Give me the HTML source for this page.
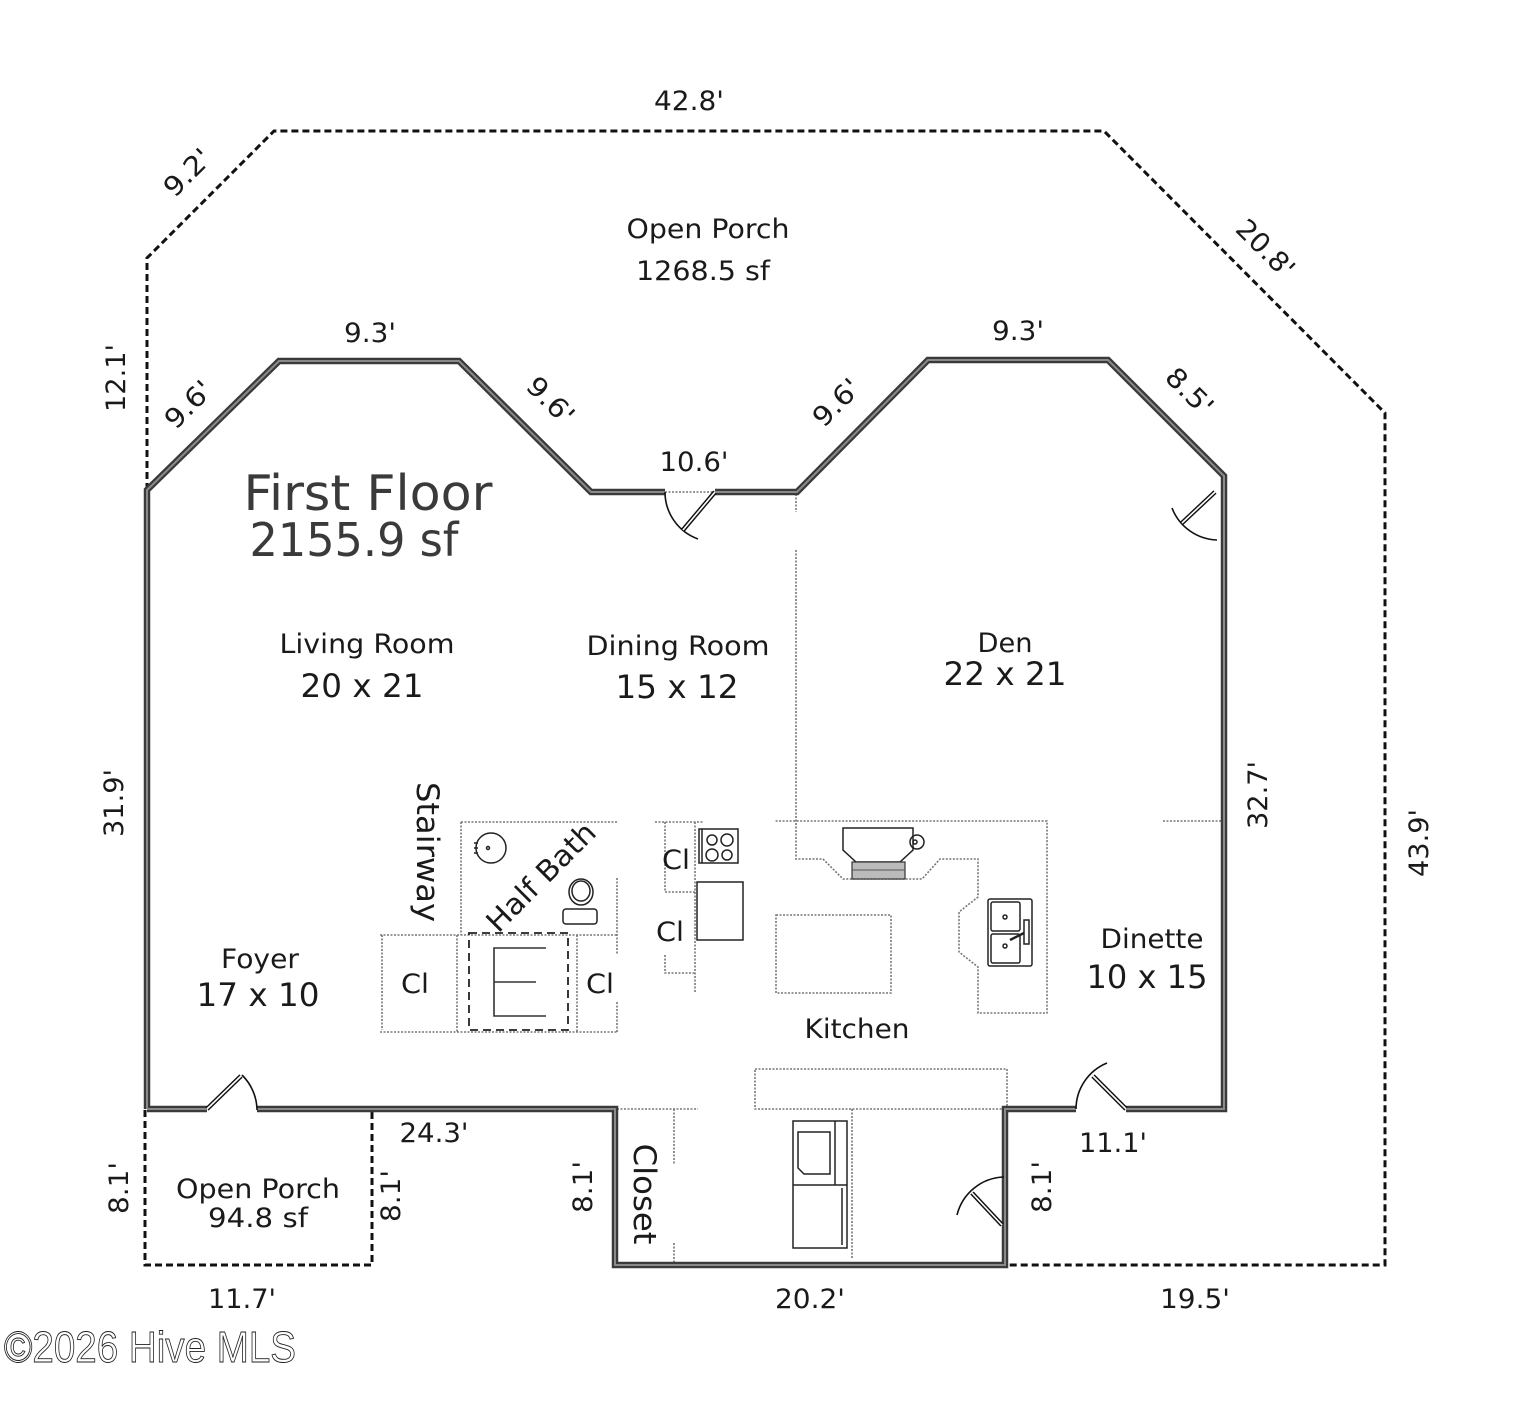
<!DOCTYPE html>
<html><head><meta charset="utf-8"><style>
html,body{margin:0;padding:0;background:#fff;}
svg{display:block;}
text{font-family:"DejaVu Sans","Liberation Sans",sans-serif;fill:#1a1a1a;}
</style></head><body>
<svg width="1536" height="1410" viewBox="0 0 1536 1410" xmlns="http://www.w3.org/2000/svg">
<rect width="1536" height="1410" fill="#fff"/>
<!-- outer porch dashed -->
<path d="M147,490 L147,258 L274,131 L1104,131 L1385,413 L1385,1265 L1005,1265" fill="none" stroke="#111" stroke-width="3" stroke-dasharray="7 4"/>
<path d="M145,1110 L145,1265 L372,1265 L372,1110" fill="none" stroke="#111" stroke-width="3" stroke-dasharray="7 4"/>

<!-- interior dotted lines -->
<g fill="none" stroke="#777" stroke-width="1.6" stroke-dasharray="2 1.5">
<line x1="796" y1="494" x2="796" y2="512"/>
<polyline points="796,550 796,859 823,859 843,879 922,879 940,859 978,859 978,897 959,912 959,952 978,967 978,1013 1047,1013 1047,821 775,821"/>
<line x1="1163" y1="821" x2="1222" y2="821"/>
<rect x="776" y="915" width="115" height="78"/>
<line x1="655" y1="822" x2="703" y2="822"/>
<polyline points="665,822 665,892 695,892"/>
<line x1="695" y1="822" x2="695" y2="993"/>
<polyline points="665,955 665,973 695,973"/>
<line x1="461" y1="822" x2="617" y2="822"/>
<line x1="461" y1="822" x2="461" y2="935"/>
<line x1="617" y1="878" x2="617" y2="955"/>
<line x1="617" y1="1002" x2="617" y2="1032"/>
<line x1="380" y1="935" x2="617" y2="935"/>
<line x1="382" y1="935" x2="382" y2="1030"/>
<line x1="457" y1="935" x2="457" y2="1032"/>
<line x1="577" y1="935" x2="577" y2="1032"/>
<line x1="380" y1="1032" x2="617" y2="1032"/>
<rect x="755" y="1069" width="252" height="40"/>
<line x1="617" y1="1109" x2="698" y2="1109"/>
<line x1="674" y1="1109" x2="674" y2="1165"/>
<line x1="674" y1="1243" x2="674" y2="1263"/>
<line x1="852" y1="1109" x2="852" y2="1258"/>
<line x1="665" y1="492" x2="715" y2="492"/>
</g>

<!-- stair dashed -->
<rect x="469" y="933" width="99" height="97" fill="none" stroke="#222" stroke-width="1.8" stroke-dasharray="8 5"/>
<g stroke="#333" stroke-width="1.6" fill="none">
<polyline points="546,948 494,948 494,1016 546,1016"/>
<line x1="494" y1="982" x2="536" y2="982"/>
</g>

<!-- fixtures -->
<g fill="none" stroke="#222" stroke-width="1.5">
<circle cx="491" cy="848" r="15"/>
<circle cx="488" cy="848" r="1.5"/>
<line x1="474" y1="843" x2="478" y2="843"/><line x1="474" y1="848" x2="478" y2="848"/><line x1="474" y1="853" x2="478" y2="853"/>
<ellipse cx="581" cy="892" rx="12" ry="13"/>
<ellipse cx="581" cy="891" rx="9" ry="10"/>
<rect x="563" y="909" width="34" height="15" rx="3"/>
<rect x="699" y="829" width="39" height="34"/>
<line x1="702" y1="829" x2="702" y2="863"/>
<circle cx="712" cy="840" r="5"/><circle cx="727" cy="840" r="6"/>
<circle cx="712" cy="855" r="6"/><circle cx="727" cy="855" r="5"/>
<rect x="697" y="882" width="46" height="58"/>
<path d="M843,828 L913,828 L913,850 L900,862 L856,862 L843,850 Z"/>
<circle cx="917" cy="842" r="7"/>
<circle cx="915" cy="842" r="2"/>
<rect x="988" y="899" width="44" height="67" rx="2"/>
<rect x="991" y="902" width="29" height="29" rx="2"/>
<rect x="991" y="934" width="29" height="29" rx="2"/>
<circle cx="1005" cy="917" r="2"/><circle cx="1005" cy="946" r="2"/>
<rect x="1024" y="920" width="5" height="24"/>
<line x1="1010" y1="940" x2="1024" y2="933" stroke-width="2.5"/>
<rect x="793" y="1121" width="54" height="127"/>
<line x1="793" y1="1185" x2="847" y2="1185"/>
<path d="M798,1132 L830,1132 L830,1174 L804,1174 L798,1168 Z"/>
<line x1="835" y1="1121" x2="835" y2="1185"/>
<line x1="842" y1="1188" x2="842" y2="1245"/>
</g>
<rect x="852" y="862" width="53" height="17" fill="#bbb" stroke="#333" stroke-width="1.2"/>
<line x1="852" y1="870" x2="905" y2="870" stroke="#555" stroke-width="1"/>

<!-- main walls -->
<g fill="none" stroke-linejoin="miter">
<path d="M147,1109 L147,490 L279,361 L459,361 L591,492 L665,492 M715,492 L797,492 L928,360 L1108,360 L1224,476 L1224,1109 L1126,1109 M1076,1109 L1005,1109 L1005,1265 L615,1265 L615,1109 L257,1109 M207,1109 L147,1109" stroke="#3a3a3a" stroke-width="6.5"/>
<path d="M147,1109 L147,490 L279,361 L459,361 L591,492 L665,492 M715,492 L797,492 L928,360 L1108,360 L1224,476 L1224,1109 L1126,1109 M1076,1109 L1005,1109 L1005,1265 L615,1265 L615,1109 L257,1109 M207,1109 L147,1109" stroke="#8a8a8a" stroke-width="2"/>
</g>

<!-- doors -->
<g fill="none" stroke="#111" stroke-width="1.6">
<path d="M665,492 A50,50 0 0 0 698,539"/>
<path d="M1172,508 A50,50 0 0 0 1217,540"/>
<path d="M1076,1109 A50,50 0 0 1 1107,1063"/>
<path d="M1004,1177 A50,50 0 0 0 957,1215"/>
<path d="M242,1075 A50,50 0 0 1 257,1110"/>
</g>
<g stroke-linecap="butt">
<line x1="715" y1="492" x2="683" y2="530" stroke="#111" stroke-width="4.5"/>
<line x1="715" y1="492" x2="683" y2="530" stroke="#fff" stroke-width="1.6"/>
<line x1="1215" y1="492" x2="1182" y2="523" stroke="#111" stroke-width="4.5"/>
<line x1="1215" y1="492" x2="1182" y2="523" stroke="#fff" stroke-width="1.6"/>
<line x1="1126" y1="1109" x2="1093" y2="1076" stroke="#111" stroke-width="4.5"/>
<line x1="1126" y1="1109" x2="1093" y2="1076" stroke="#fff" stroke-width="1.6"/>
<line x1="1002" y1="1225" x2="972" y2="1193" stroke="#111" stroke-width="4.5"/>
<line x1="1002" y1="1225" x2="972" y2="1193" stroke="#fff" stroke-width="1.6"/>
<line x1="207" y1="1109" x2="241" y2="1076" stroke="#111" stroke-width="4.5"/>
<line x1="207" y1="1109" x2="241" y2="1076" stroke="#fff" stroke-width="1.6"/>
</g>

<!-- labels -->
<g text-anchor="middle" font-size="27">
<text x="689" y="110" textLength="70" lengthAdjust="spacingAndGlyphs">42.8'</text>
<text x="708" y="238" textLength="163" lengthAdjust="spacingAndGlyphs">Open Porch</text>
<text x="703" y="280" textLength="134" lengthAdjust="spacingAndGlyphs">1268.5 sf</text>
<text x="370" y="342" textLength="52" lengthAdjust="spacingAndGlyphs">9.3'</text>
<text x="1018" y="340" textLength="52" lengthAdjust="spacingAndGlyphs">9.3'</text>
<text x="694" y="471" textLength="69" lengthAdjust="spacingAndGlyphs">10.6'</text>
<text x="367" y="653" textLength="175" lengthAdjust="spacingAndGlyphs">Living Room</text>
<text x="678" y="655" textLength="183" lengthAdjust="spacingAndGlyphs">Dining Room</text>
<text x="1005" y="652" textLength="55" lengthAdjust="spacingAndGlyphs">Den</text>
<text x="260" y="968" textLength="78" lengthAdjust="spacingAndGlyphs">Foyer</text>
<text x="1152" y="948" textLength="103" lengthAdjust="spacingAndGlyphs">Dinette</text>
<text x="857" y="1038" textLength="105" lengthAdjust="spacingAndGlyphs">Kitchen</text>
<text x="434" y="1142" textLength="69" lengthAdjust="spacingAndGlyphs">24.3'</text>
<text x="1113" y="1152" textLength="68" lengthAdjust="spacingAndGlyphs">11.1'</text>
<text x="258" y="1198" textLength="164" lengthAdjust="spacingAndGlyphs">Open Porch</text>
<text x="258" y="1227" textLength="100" lengthAdjust="spacingAndGlyphs">94.8 sf</text>
<text x="242" y="1308" textLength="68" lengthAdjust="spacingAndGlyphs">11.7'</text>
<text x="810" y="1308" textLength="70" lengthAdjust="spacingAndGlyphs">20.2'</text>
<text x="1195" y="1308" textLength="70" lengthAdjust="spacingAndGlyphs">19.5'</text>
<text x="676" y="869" textLength="28" lengthAdjust="spacingAndGlyphs">Cl</text>
<text x="670" y="941" textLength="28" lengthAdjust="spacingAndGlyphs">Cl</text>
<text x="415" y="993" textLength="28" lengthAdjust="spacingAndGlyphs">Cl</text>
<text x="600" y="993" textLength="28" lengthAdjust="spacingAndGlyphs">Cl</text>
</g>
<g text-anchor="middle" font-size="32">
<text x="362" y="697" textLength="123" lengthAdjust="spacingAndGlyphs">20 x 21</text>
<text x="677" y="698" textLength="123" lengthAdjust="spacingAndGlyphs">15 x 12</text>
<text x="1005" y="685" textLength="123" lengthAdjust="spacingAndGlyphs">22 x 21</text>
<text x="258" y="1006" textLength="123" lengthAdjust="spacingAndGlyphs">17 x 10</text>
<text x="1147" y="988" textLength="121" lengthAdjust="spacingAndGlyphs">10 x 15</text>
</g>
<g text-anchor="middle">
<text x="368" y="510" font-size="49" textLength="249" lengthAdjust="spacingAndGlyphs" style="fill:#3a3a3a">First Floor</text>
<text x="354" y="556" font-size="46" textLength="209" lengthAdjust="spacingAndGlyphs" style="fill:#3a3a3a">2155.9 sf</text>
</g>

<!-- rotated labels -->
<g text-anchor="middle" font-size="27">
<text transform="translate(187,172) rotate(-45)" x="0" y="10" textLength="55" lengthAdjust="spacingAndGlyphs">9.2'</text>
<text transform="translate(1266,248) rotate(45)" x="0" y="10" textLength="70" lengthAdjust="spacingAndGlyphs">20.8'</text>
<text transform="translate(115,378) rotate(-90)" x="0" y="10" textLength="68" lengthAdjust="spacingAndGlyphs">12.1'</text>
<text transform="translate(188,404) rotate(-45)" x="0" y="10" textLength="55" lengthAdjust="spacingAndGlyphs">9.6'</text>
<text transform="translate(551,400) rotate(45)" x="0" y="10" textLength="55" lengthAdjust="spacingAndGlyphs">9.6'</text>
<text transform="translate(836,402) rotate(-45)" x="0" y="10" textLength="55" lengthAdjust="spacingAndGlyphs">9.6'</text>
<text transform="translate(1190,391) rotate(45)" x="0" y="10" textLength="55" lengthAdjust="spacingAndGlyphs">8.5'</text>
<text transform="translate(113,803) rotate(-90)" x="0" y="10" textLength="68" lengthAdjust="spacingAndGlyphs">31.9'</text>
<text transform="translate(1257,795) rotate(-90)" x="0" y="10" textLength="68" lengthAdjust="spacingAndGlyphs">32.7'</text>
<text transform="translate(1418,843) rotate(-90)" x="0" y="10" textLength="68" lengthAdjust="spacingAndGlyphs">43.9'</text>
<text transform="translate(118,1188) rotate(-90)" x="0" y="10" textLength="52" lengthAdjust="spacingAndGlyphs">8.1'</text>
<text transform="translate(390,1196) rotate(-90)" x="0" y="10" textLength="52" lengthAdjust="spacingAndGlyphs">8.1'</text>
<text transform="translate(582,1187) rotate(-90)" x="0" y="10" textLength="52" lengthAdjust="spacingAndGlyphs">8.1'</text>
<text transform="translate(1041,1187) rotate(-90)" x="0" y="10" textLength="52" lengthAdjust="spacingAndGlyphs">8.1'</text>
<text transform="translate(428,852) rotate(90)" x="0" y="11" font-size="31" textLength="140" lengthAdjust="spacingAndGlyphs">Stairway</text>
<text transform="translate(541,877) rotate(-45)" x="0" y="10" font-size="29" textLength="141" lengthAdjust="spacingAndGlyphs">Half Bath</text>
<text transform="translate(645,1194) rotate(90)" x="0" y="11" font-size="31" textLength="101" lengthAdjust="spacingAndGlyphs">Closet</text>
</g>

<!-- watermark -->
<text x="4" y="1362" font-size="44" textLength="292" lengthAdjust="spacingAndGlyphs" style="font-family:'Liberation Sans',sans-serif;fill:#fff;stroke:#222;stroke-width:0.9">©2026 Hive MLS</text>
</svg>
</body></html>
